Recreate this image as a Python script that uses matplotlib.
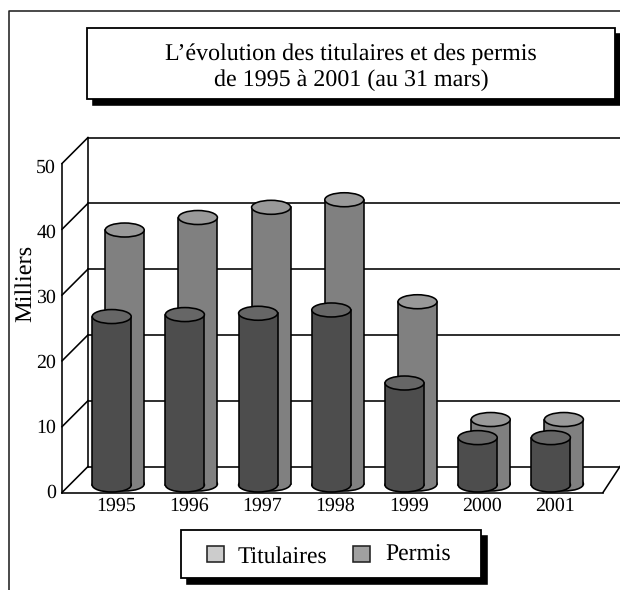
#!/usr/bin/env python3
"""Titulaires et permis 1995-2001, cylindres 3D dessinés à la main."""
import matplotlib
matplotlib.use("Agg")
import matplotlib.pyplot as plt
from matplotlib.patches import Ellipse, Rectangle
from matplotlib.transforms import ScaledTranslation

annees = ["1995", "1996", "1997", "1998", "1999", "2000", "2001"]
titulaires = [25.6, 25.9, 26.1, 26.6, 15.5, 7.2, 7.2]
permis = [38.6, 40.5, 42.05, 43.2, 27.7, 9.8, 9.8]
yticks = [0, 10, 20, 30, 40, 50]

W, H = 620, 590
PX_X = 73.2    # pixels par catégorie
PX_Y = 6.58    # pixels par millier
LW = 1.15

plt.rcParams["font.family"] = ["Liberation Serif", "DejaVu Serif"]
plt.rcParams["text.hinting"] = "none"
fig = plt.figure(figsize=(W / 100, H / 100), dpi=100)


def box(x0, y0, x1, y1, **kw):
    """Rectangle en pixels image (origine en haut à gauche)."""
    fig.add_artist(Rectangle((x0 / W, 1 - y1 / H), (x1 - x0) / W, (y1 - y0) / H,
                             transform=fig.transFigure, **kw))


def boite(x0, y0, x1, y1, shadow):
    box(x0 + shadow, y0 + shadow, x1 + shadow, y1 + shadow, fc="black", ec="black", lw=LW)
    box(x0, y0, x1, y1, fc="white", ec="black", lw=1.3)


# cadre extérieur (ouvert à droite et en bas)
fig.add_artist(plt.Line2D([8.5 / W, 8.5 / W, 1], [0, 1 - 10.5 / H, 1 - 10.5 / H], color="#222222", lw=LW))

ax = fig.add_axes([62 / W, 1 - 492.5 / H, (603 - 62) / W, (492.5 - 163.5) / H])
ax.set_xlim((62 - 116) / PX_X, (603 - 116) / PX_X)
ax.set_ylim(0, 50)
ax.patch.set_visible(False)
for s in ("top", "right"):
    ax.spines[s].set_visible(False)
for s in ("left", "bottom"):
    ax.spines[s].set_linewidth(LW)

x0, x1 = ax.get_xlim()
dx, dy = 26 / PX_X, 26 / PX_Y
xfin = (620 - 116) / PX_X
# murs : diagonales + horizontales du fond
for v in yticks:
    ax.plot([x0, x0 + dx], [v, v + dy], color="black", lw=LW, clip_on=False, zorder=1)
    ax.plot([x0 + dx, xfin], [v + dy, v + dy], color="black", lw=LW, clip_on=False, zorder=1)
ax.plot([x0 + dx, x0 + dx], [dy, 50 + dy], color="black", lw=LW, clip_on=False, zorder=1)
ax.plot([x1, xfin], [0, dy], color="black", lw=LW, clip_on=False, zorder=1)


def cylindre(xc, base, h, body, top, z):
    larg = 39 / PX_X
    eh = 14 / PX_Y
    ax.add_patch(Ellipse((xc, base), larg, eh, fc=body, ec="black", lw=LW, zorder=z, clip_on=False))
    ax.add_patch(Rectangle((xc - larg / 2, base), larg, h, fc=body, ec="none", zorder=z, clip_on=False))
    for xs in (xc - larg / 2, xc + larg / 2):
        ax.plot([xs, xs], [base, base + h], color="black", lw=LW, zorder=z, clip_on=False)
    ax.add_patch(Ellipse((xc, base + h), larg, eh, fc=top, ec="black", lw=LW, zorder=z, clip_on=False))


for i, v in enumerate(permis):
    cylindre(i + 8.7 / PX_X, 8.5 / PX_Y, v, "#808080", "#999999", 3 + i * 0.01)
for i, v in enumerate(titulaires):
    cylindre(i - 4.3 / PX_X, 7.5 / PX_Y, v, "#4d4d4d", "#666666", 4 + i * 0.01)

ax.set_xticks(range(len(annees)), annees, fontsize=14.3)
ax.set_yticks(yticks, [str(v) for v in yticks], fontsize=14.3)
ax.tick_params(length=0)
ax.tick_params(axis="x", pad=3.5)
ax.tick_params(axis="y", pad=4.3)
# les chiffres de l'original ne tombent pas pile sur les graduations
fig.canvas.draw()
for v, lab in zip(yticks, ax.get_yticklabels()):
    lab.set_transform(lab.get_transform() + ScaledTranslation(0, (1.8 - 4.3 * v / 50) / 100, fig.dpi_scale_trans))
fig.text(25 / W, 1 - 283.5 / H, "Milliers", rotation=90, fontsize=17.6, ha="center", va="center")

# titre
boite(87, 28, 615, 99, 6)
fig.text(351 / W, 1 - 54 / H, "L\u2019évolution des titulaires et des permis", fontsize=17.3,
         ha="center", va="center")
fig.text(351 / W, 1 - 80 / H, "de 1995 à 2001 (au 31 mars)", fontsize=17.3, ha="center", va="center")

# légende
boite(181, 530, 481, 578, 6)
box(207, 546, 224, 562, fc="#cccccc", ec="#222222", lw=LW)
box(353, 546, 370, 562, fc="#a0a0a0", ec="#222222", lw=LW)
fig.text(238 / W, 1 - 563 / H, "Titulaires", fontsize=17, ha="left", va="baseline")
fig.text(385 / W, 1 - 561 / H, "Permis", fontsize=17, ha="left", va="baseline")

fig.savefig("out.png", dpi=100)
